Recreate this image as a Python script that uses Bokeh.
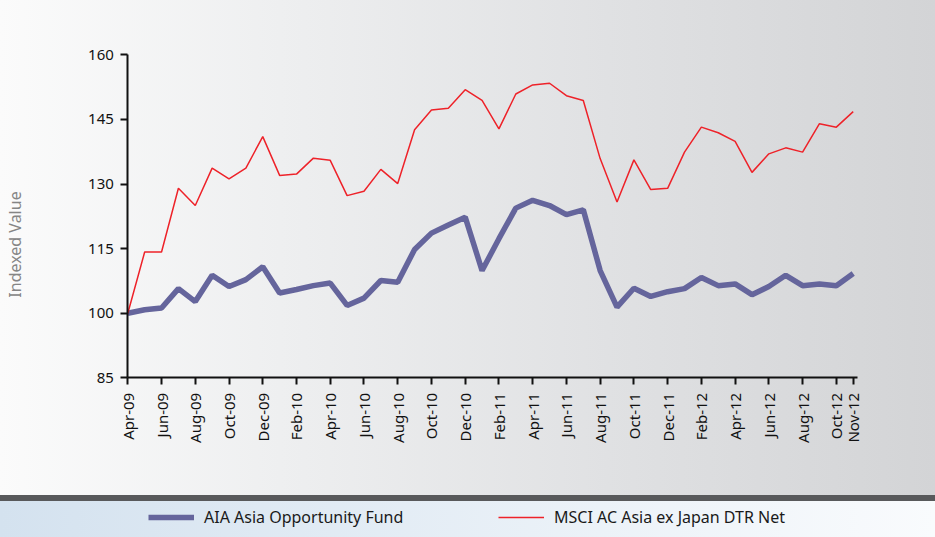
import math
from bokeh.plotting import figure
from bokeh.models import Range1d, FixedTicker, Legend, LegendItem, Label
from bokeh.embed import file_html
from bokeh.resources import INLINE

months = ["Apr-09", "May-09", "Jun-09", "Jul-09", "Aug-09", "Sep-09", "Oct-09", "Nov-09", "Dec-09",
          "Jan-10", "Feb-10", "Mar-10", "Apr-10", "May-10", "Jun-10", "Jul-10", "Aug-10", "Sep-10",
          "Oct-10", "Nov-10", "Dec-10", "Jan-11", "Feb-11", "Mar-11", "Apr-11", "May-11", "Jun-11",
          "Jul-11", "Aug-11", "Sep-11", "Oct-11", "Nov-11", "Dec-11", "Jan-12", "Feb-12", "Mar-12",
          "Apr-12", "May-12", "Jun-12", "Jul-12", "Aug-12", "Sep-12", "Oct-12", "Nov-12"]

aia_fund = [100.0, 100.8, 101.2, 105.7, 102.7, 108.8, 106.2, 107.8, 110.8,
            104.7, 105.5, 106.4, 107.0, 101.8, 103.5, 107.6, 107.2, 114.8,
            118.6, 120.5, 122.3, 109.9, 117.3, 124.4, 126.2, 125.0, 122.9,
            124.0, 109.9, 101.4, 105.8, 103.9, 105.0, 105.7, 108.3, 106.4,
            106.8, 104.3, 106.2, 108.8, 106.4, 106.8, 106.4, 109.2]

msci_index = [100.0, 114.2, 114.2, 129.0, 125.0, 133.7, 131.2, 133.7, 141.0,
              132.0, 132.3, 136.0, 135.5, 127.3, 128.3, 133.4, 130.1, 142.6,
              147.2, 147.6, 151.9, 149.4, 142.8, 150.9, 153.0, 153.4, 150.5,
              149.4, 135.9, 125.8, 135.6, 128.7, 129.0, 137.4, 143.2, 141.9,
              139.9, 132.7, 137.0, 138.4, 137.4, 144.0, 143.2, 146.8]

tick_labels = ["Apr-09", "Jun-09", "Aug-09", "Oct-09", "Dec-09", "Feb-10", "Apr-10", "Jun-10",
               "Aug-10", "Oct-10", "Dec-10", "Feb-11", "Apr-11", "Jun-11", "Aug-11", "Oct-11",
               "Dec-11", "Feb-12", "Apr-12", "Jun-12", "Aug-12", "Oct-12", "Nov-12"]

y_ticks = [85, 100, 115, 130, 145, 160]

series_names = ["AIA Asia Opportunity Fund", "MSCI AC Asia ex Japan DTR Net"]
y_title = "Indexed Value"

x = list(range(len(months)))
tick_pos = [months.index(t) for t in tick_labels]

FONT = "Noto Sans"

# the frame fills the whole figure; axes are drawn at fixed locations inside it
p = figure(width=935, height=537, output_backend="svg", toolbar_location=None,
           x_range=Range1d(-7.546, 47.878), y_range=Range1d(47.92, 172.61),
           min_border=0, min_border_left=0, min_border_right=0,
           min_border_top=0, min_border_bottom=0)

p.background_fill_alpha = 0
p.border_fill_alpha = 0
p.outline_line_color = None
p.xgrid.visible = False
p.ygrid.visible = False

p.styles = {
    "background": (
        "linear-gradient(#58595b, #58595b) 0 495px / 100% 6px no-repeat, "
        "linear-gradient(to right, #d4e2ef, #f9fbfd) 0 501px / 100% 36px no-repeat, "
        "linear-gradient(to right, #fbfbfb 0%, #eeeff0 30%, #e0e1e3 65%, #d3d4d6 100%)"
    )
}

r_blue = p.line(x, aia_fund, line_color="#65659c", line_width=5.5)
r_red = p.line(x, msci_index, line_color="#ee2229", line_width=1.5)

for ax in (p.xaxis[0], p.yaxis[0]):
    ax.axis_line_color = "#111111"
    ax.axis_line_width = 2
    ax.major_tick_line_color = "#111111"
    ax.major_tick_line_width = 2
    ax.major_tick_out = 7
    ax.major_tick_in = 0
    ax.minor_tick_line_color = None
    ax.major_label_text_font = FONT
    ax.major_label_text_font_size = "15px"
    ax.major_label_text_color = "#111111"

p.xaxis.fixed_location = y_ticks[0]
p.xaxis.bounds = (0, 43.27)
p.xaxis.ticker = FixedTicker(ticks=tick_pos)
p.xaxis.major_label_overrides = {i: t for i, t in zip(tick_pos, tick_labels)}
p.xaxis.major_label_orientation = math.pi / 2
p.xaxis.major_label_standoff = 8

p.yaxis.fixed_location = 0
p.yaxis.bounds = (y_ticks[0], y_ticks[-1])
p.yaxis.ticker = FixedTicker(ticks=y_ticks)
p.yaxis.major_label_standoff = 7

p.add_layout(Label(x=14, y=293, x_units="screen", y_units="screen", text=y_title,
                   angle=math.pi / 2, text_align="center", text_baseline="middle",
                   text_font=FONT, text_font_size="16px", text_color="#858585"))


def make_legend(name, renderer, loc):
    return Legend(items=[LegendItem(label=name, renderers=[renderer])],
                  location=loc, orientation="horizontal",
                  glyph_width=46, glyph_height=20, label_standoff=10,
                  padding=0, margin=0, border_line_color=None,
                  background_fill_alpha=0,
                  label_text_font=FONT, label_text_font_size="16px",
                  label_text_color="#1a1a1a")


p.add_layout(make_legend(series_names[0], r_blue, (148, 9)))
p.add_layout(make_legend(series_names[1], r_red, (498, 9)))

open("out.html", "w").write(file_html(p, INLINE))
